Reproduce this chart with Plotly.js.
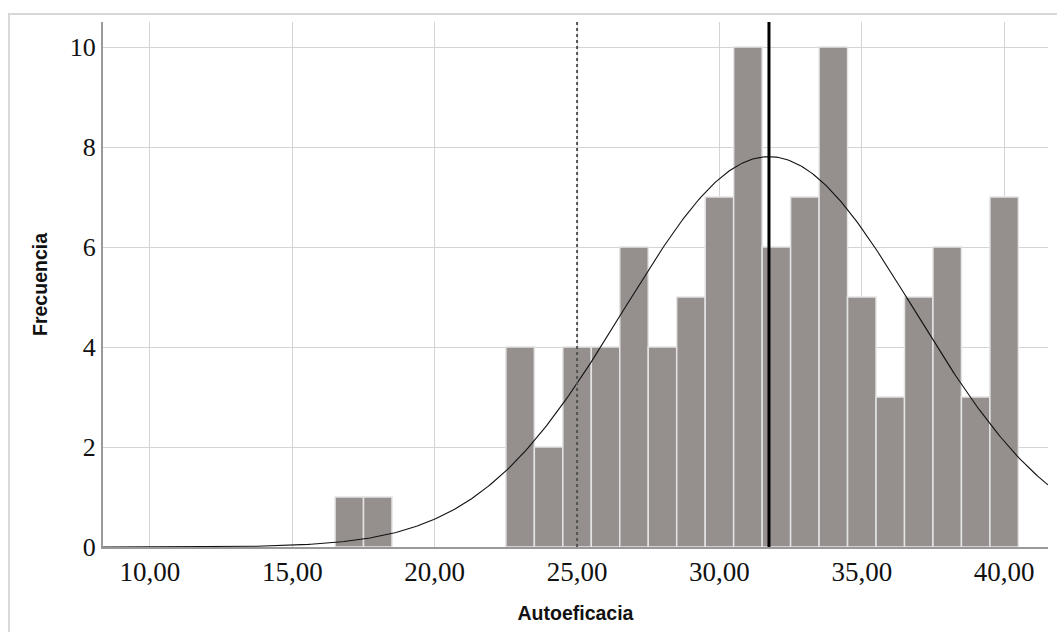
<!DOCTYPE html>
<html><head><meta charset="utf-8">
<script src="https://cdn.plot.ly/plotly-3.0.1.min.js"></script>
<style>html,body{margin:0;padding:0;background:#fff}#chart{width:1057px;height:632px}</style>
</head><body><div id="chart"></div>
<script>
// Histogram bins (centers) and frequencies
const binCenters = [17, 18, 23, 24, 25, 26, 27, 28, 29, 30, 31, 32, 33, 34, 35, 36, 37, 38, 39, 40];
const frequencies = [1, 1, 4, 2, 4, 4, 6, 4, 5, 7, 10, 6, 7, 10, 5, 3, 5, 6, 3, 7];
const xTickVals = [10, 15, 20, 25, 30, 35, 40];
const xTickText = ["10,00", "15,00", "20,00", "25,00", "30,00", "35,00", "40,00"];
const yTickVals = [0, 2, 4, 6, 8, 10];
const meanValue = 31.74;
const sdValue = 5.11;
const refLineValue = 25.0;
const nTotal = 100;

// Fitted normal curve (from mean and sd)
const curveX = [], curveY = [];
for (let i = 0; i <= 400; i++) {
  const x = 8.35 + (41.54 - 8.35) * i / 400;
  curveX.push(x);
  curveY.push(nTotal / (sdValue * Math.sqrt(2 * Math.PI)) * Math.exp(-0.5 * Math.pow((x - meanValue) / sdValue, 2)));
}

const traces = [
  {type: 'bar', x: binCenters, y: frequencies, width: 1,
   marker: {color: '#958f8d', line: {color: '#e4e4e4', width: 1.5}}, hoverinfo: 'x+y'},
  {type: 'scatter', mode: 'lines', x: curveX, y: curveY, line: {color: '#111', width: 1.1}, hoverinfo: 'skip'}
];

const layout = {
  width: 1057, height: 632,
  margin: {l: 103, r: 9, t: 22, b: 85},
  paper_bgcolor: '#fff', plot_bgcolor: '#fff',
  showlegend: false,
  bargap: 0,
  xaxis: {
    range: [8.35, 41.54], tickvals: xTickVals, ticktext: xTickText,
    showgrid: true, gridcolor: '#d4d4d4', gridwidth: 1,
    zeroline: false, showline: true, linecolor: '#999', linewidth: 2,
    ticks: '', ticklen: 0,
    tickfont: {family: 'Liberation Serif, Times New Roman, serif', size: 27, color: '#111'},
    title: {text: 'Autoeficacia', font: {family: 'Liberation Sans, Arial, sans-serif', size: 19.5, weight: 'bold', color: '#111'}, standoff: 20}
  },
  yaxis: {
    range: [0, 10.5], tickvals: yTickVals,
    showgrid: true, gridcolor: '#d4d4d4', gridwidth: 1,
    zeroline: false, showline: true, linecolor: '#999', linewidth: 2,
    ticks: '', ticklen: 0,
    tickfont: {family: 'Liberation Serif, Times New Roman, serif', size: 26, color: '#111'},
    title: {text: 'Frecuencia', font: {family: 'Liberation Sans, Arial, sans-serif', size: 19.5, weight: 'bold', color: '#111'}, standoff: 17}
  },
  shapes: [
    {type: 'rect', xref: 'paper', yref: 'paper', x0: -0.0995, x1: 1.2, y0: -0.3, y1: 1.0152,
     line: {color: '#d8d8d8', width: 2}, fillcolor: 'rgba(0,0,0,0)', layer: 'below'},
    {type: 'line', xref: 'x', yref: 'paper', x0: refLineValue, x1: refLineValue, y0: 0, y1: 1,
     line: {color: '#555', width: 2, dash: 'dot'}},
    {type: 'line', xref: 'x', yref: 'paper', x0: meanValue, x1: meanValue, y0: 0, y1: 1,
     line: {color: '#000', width: 3}}
  ]
};

Plotly.newPlot('chart', traces, layout, {displayModeBar: false, staticPlot: true});
</script></body></html>
